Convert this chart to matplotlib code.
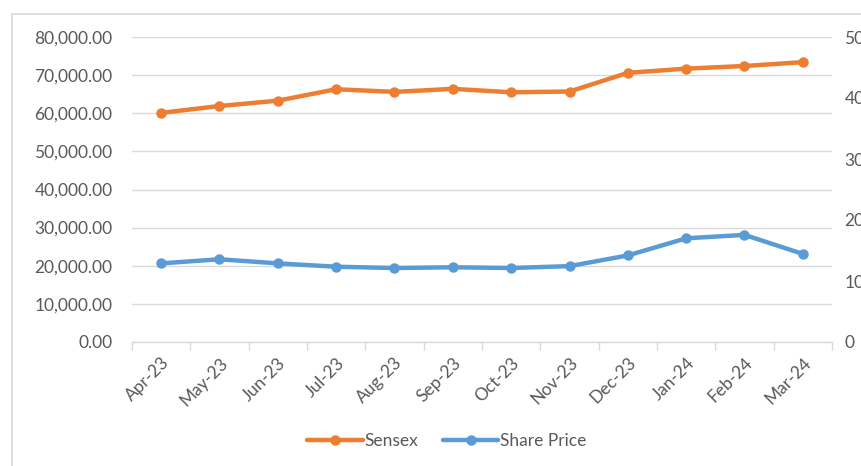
import matplotlib
matplotlib.use("Agg")
import matplotlib.pyplot as plt
from matplotlib.ticker import FuncFormatter, MultipleLocator
from matplotlib.patches import Rectangle

months = ["Apr-23", "May-23", "Jun-23", "Jul-23", "Aug-23", "Sep-23",
          "Oct-23", "Nov-23", "Dec-23", "Jan-24", "Feb-24", "Mar-24"]
sensex = [60100, 61900, 63300, 66300, 65600, 66400,
          65500, 65700, 70600, 71700, 72400, 73400]
share_price = [128.9, 135.6, 128.9, 123.4, 121.3, 122.5,
               121.3, 124.4, 141.9, 170.0, 175.6, 144.4]

plt.rcParams['font.family'] = ['Lato', 'DejaVu Sans']
TXT = '#595959'
ORANGE = '#ED7D31'
BLUE = '#5B9BD5'
GRID = '#D9D9D9'
FS = 12.5

W, H = 862, 466
fig = plt.figure(figsize=(W / 100, H / 100), dpi=100)
fig.patches.append(Rectangle((12 / W, -0.1), 2, (H - 14) / H + 0.1,
                             transform=fig.transFigure, fill=False,
                             edgecolor=GRID, linewidth=1.2))

ax = fig.add_axes([132 / W, (H - 342) / H, (832 - 132) / W, (342 - 37) / H])
ax2 = ax.twinx()

x = list(range(len(months)))
ax.plot(x, sensex, color=ORANGE, lw=3.2, marker='o', ms=6.5, label='Sensex',
        solid_capstyle='round', zorder=3)
ax2.plot(x, share_price, color=BLUE, lw=3.2, marker='o', ms=6.5, label='Share Price',
         solid_capstyle='round', zorder=3)

ax.set_xlim(-0.5, len(months) - 0.5)
ax.set_ylim(0, 80000)
ax2.set_ylim(0, 500)
ax.yaxis.set_major_locator(MultipleLocator(10000))
ax2.yaxis.set_major_locator(MultipleLocator(100))
ax.yaxis.set_major_formatter(FuncFormatter(lambda v, p: f"{v:,.2f}"))
ax2.yaxis.set_major_formatter(FuncFormatter(lambda v, p: f"{int(v)}"))

ax.grid(axis='y', color=GRID, lw=1.0)
ax.set_axisbelow(True)
for a in (ax, ax2):
    for s in a.spines.values():
        s.set_visible(False)
ax.spines['bottom'].set_visible(True)
ax.spines['bottom'].set_color(GRID)
ax.spines['bottom'].set_linewidth(1.0)

ax.set_xticks(x)
ax.set_xticklabels(months, rotation=45, ha='right', rotation_mode='anchor')
ax.set_xticks([i - 0.5 for i in range(len(months) + 1)], minor=True)
ax.tick_params(axis='x', which='major', length=0, pad=9, labelsize=FS, labelcolor=TXT)
ax.tick_params(axis='x', which='minor', length=6, color=GRID, width=1.0)
ax.tick_params(axis='y', length=0, pad=14, labelsize=FS, labelcolor=TXT)
ax2.tick_params(axis='y', length=0, pad=9, labelsize=FS, labelcolor=TXT)

h1, l1 = ax.get_legend_handles_labels()
h2, l2 = ax2.get_legend_handles_labels()
fig.legend(h1 + h2, l1 + l2, loc='center', bbox_to_anchor=(447 / W, 1 - 441 / H),
           ncol=2, frameon=False, fontsize=FS, labelcolor=TXT,
           handlelength=3.2, handletextpad=0.1, columnspacing=1.4)

fig.savefig('out.png', dpi=100)
